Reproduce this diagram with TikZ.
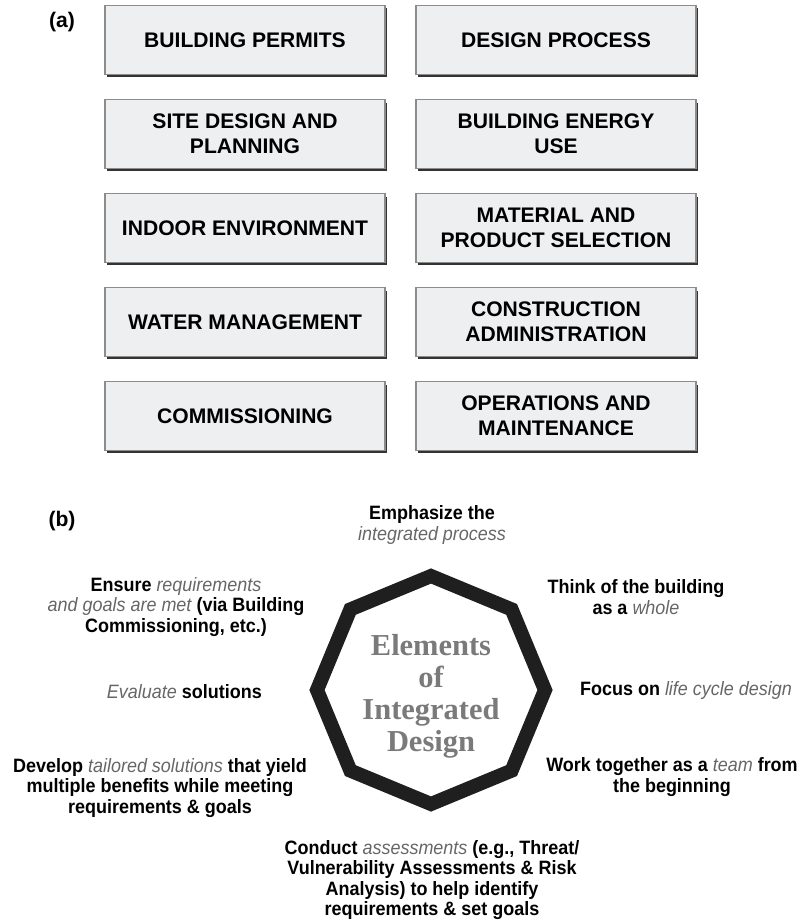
\documentclass[tikz,border=0pt]{standalone}
\usepackage{fontspec}
\setmainfont{Liberation Sans}
\newfontfamily\narrowsans[FakeStretch=0.93]{Liberation Sans}
\newfontfamily\titleserif{Liberation Serif}
\usetikzlibrary{positioning}
\usetikzlibrary{shadows}
\usetikzlibrary{shapes.geometric}

\definecolor{boxfill}{HTML}{EEEFF1}
\definecolor{boxedge}{HTML}{8C8C8C}
\newcommand{\emphit}[1]{{\mdseries\itshape\color{black!60}#1}}

\begin{document}
\begin{tikzpicture}[x=0.03cm,y=-0.03cm,
		topic/.style={rectangle,draw=boxedge,line width=0.9pt,fill=boxfill,
			minimum width=8.4cm,minimum height=2.05cm,align=center,
			font=\fontsize{18}{21.5}\selectfont\bfseries,
			drop shadow={shadow xshift=0.05cm,shadow yshift=-0.08cm,fill=black!80,opacity=1}},
		panel/.style={font=\fontsize{18}{21.5}\selectfont\bfseries},
		remark/.style={align=center,inner sep=0pt,
			font=\narrowsans\fontsize{16.5}{17.3}\selectfont\bfseries}]
				
				\useasboundingbox (0,0) rectangle (801,924);
				
				% (a) topics
				\node[panel] (la) at (62,22) {(a)};
				
				\node[topic] (A1) at (245,40) {BUILDING PERMITS};
				\node[topic] (A2) at (245,134) {SITE DESIGN AND\\PLANNING};
				\node[topic] (A3) at (245,228) {INDOOR ENVIRONMENT};
				\node[topic] (A4) at (245,322) {WATER MANAGEMENT};
				\node[topic] (A5) at (245,416) {COMMISSIONING};
				
				\node[topic] (B1) at (556,40) {DESIGN PROCESS};
				\node[topic] (B2) at (556,134) {BUILDING ENERGY\\USE};
				\node[topic] (B3) at (556,228) {MATERIAL AND\\PRODUCT SELECTION};
				\node[topic] (B4) at (556,322) {CONSTRUCTION\\ADMINISTRATION};
				\node[topic] (B5) at (556,416) {OPERATIONS AND\\MAINTENANCE};
				
				% (b) elements
				\node[panel] (lb) at (62,521) {(b)};
				
				\node[regular polygon,regular polygon sides=8,shape border rotate=22.5,
					draw=black!88,line width=12pt,minimum size=6.84cm,inner sep=0pt]
					(core) at (431,690) {};
				\node[align=center,text=black!52,
					font=\titleserif\bfseries\fontsize{26}{27.3}\selectfont]
					(coretitle) at (431,696) {Elements\\of\\Integrated\\Design};
				
				\node[remark] (emph) at (432,525) {Emphasize the\\\emphit{integrated process}};
				\node[remark] (think) at (636,597) {Think of the building\\as a \emphit{whole}};
				\node[remark] (focus) at (686,690) {Focus on \emphit{life cycle design}};
				\node[remark] (team) at (672,777) {Work together as a \emphit{team} from\\the beginning};
				\node[remark] (conduct) at (432,880) {Conduct \emphit{assessments} (e.g., Threat/\\Vulnerability Assessments \& Risk\\Analysis) to help identify\\requirements \& set goals};
				\node[remark] (develop) at (160,788) {Develop \emphit{tailored solutions} that yield\\multiple benefits while meeting\\requirements \& goals};
				\node[remark,anchor=east] (evaluate) at (262,692) {\emphit{Evaluate} solutions};
				\node[remark] (ensure) at (176,607) {Ensure \emphit{requirements}\\\emphit{and goals are met} (via Building\\Commissioning, etc.)};
				
			\end{tikzpicture}
\end{document}
